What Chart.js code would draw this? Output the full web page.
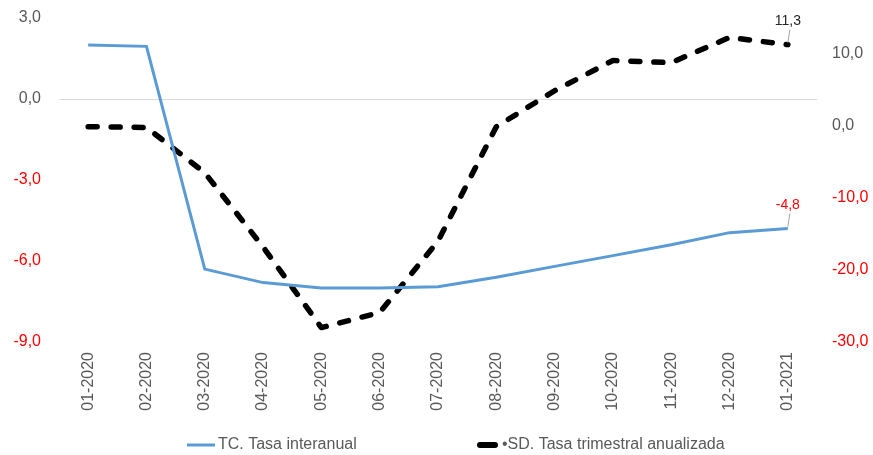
<!DOCTYPE html>
<html>
<head>
<meta charset="utf-8">
<script src="https://cdn.jsdelivr.net/npm/chart.js@4/dist/chart.umd.min.js"></script>
<style>
  html, body { margin: 0; padding: 0; background: #fff; }
  #wrap { width: 873px; height: 455px; position: relative; }
</style>
</head>
<body>
<div id="wrap"><canvas id="chart"></canvas></div>
<script>
const months = ['01-2020', '02-2020', '03-2020', '04-2020', '05-2020', '06-2020', '07-2020',
                '08-2020', '09-2020', '10-2020', '11-2020', '12-2020', '01-2021'];
// TC. Tasa interanual (left axis)
const tcValues = [2.0, 1.95, -6.3, -6.8, -7.0, -7.0, -6.95, -6.6, -6.2, -5.8, -5.4, -4.95, -4.8];
// SD. Tasa trimestral anualizada (right axis)
const sdValues = [-0.1, -0.2, -6.5, -16.8, -28.0, -25.9, -16.0, -0.1, 4.9, 9.1, 8.8, 12.3, 11.3];
const leftTicks = [-9, -6, -3, 0, 3];
const rightTicks = [-30, -20, -10, 0, 10];

const FONT = '"Liberation Sans", Arial, sans-serif';
const grey = '#595959';
const red = '#ff0000';
const blue = '#5b9bd5';
const fmt = v => v.toFixed(1).replace('.', ',');
const tickColor = ctx => (ctx.tick && ctx.tick.value < 0 ? red : grey);

// labels on the last point of each series, with a short leader line
const lastLabels = {
  id: 'lastLabels',
  afterDatasetsDraw(chart) {
    const c = chart.ctx;
    c.save();
    c.font = '14px ' + FONT;
    c.textAlign = 'center';
    c.textBaseline = 'bottom';
    chart.data.datasets.forEach((ds, i) => {
      const pt = chart.getDatasetMeta(i).data[ds.data.length - 1];
      const v = ds.data[ds.data.length - 1];
      c.strokeStyle = '#a6a6a6';
      c.lineWidth = 1;
      c.beginPath();
      c.moveTo(pt.x, pt.y - 2);
      c.lineTo(pt.x + 2, pt.y - 15);
      c.stroke();
      c.fillStyle = v < 0 ? red : '#262626';
      c.fillText(fmt(v), pt.x, pt.y - 16);
    });
    c.restore();
  }
};

// legend drawn under the axis, like the original
const bottomLegend = {
  id: 'bottomLegend',
  afterDraw(chart) {
    const c = chart.ctx;
    const y = 445;
    const items = [
      { x: 187, w: 28, lw: 3 },
      { x: 480, w: 15, lw: 6 }
    ];
    c.save();
    c.font = '16px ' + FONT;
    c.textBaseline = 'middle';
    c.textAlign = 'left';
    chart.data.datasets.forEach((ds, i) => {
      const it = items[i];
      c.strokeStyle = ds.borderColor;
      c.lineWidth = it.lw;
      c.lineCap = i === 1 ? 'round' : 'butt';
      c.beginPath();
      c.moveTo(it.x, y);
      c.lineTo(it.x + it.w, y);
      c.stroke();
      c.fillStyle = grey;
      c.fillText(ds.label, it.x + it.w + (i === 1 ? 7 : 3), y);
    });
    c.restore();
  }
};

new Chart(document.getElementById('chart'), {
  type: 'line',
  data: {
    labels: months,
    datasets: [
      {
        label: 'TC. Tasa interanual',
        data: tcValues,
        yAxisID: 'y',
        borderColor: blue,
        backgroundColor: blue,
        borderWidth: 3,
        pointRadius: 0,
        tension: 0
      },
      {
        label: '•SD. Tasa trimestral anualizada',
        data: sdValues,
        yAxisID: 'y1',
        borderColor: '#000',
        backgroundColor: '#000',
        borderWidth: 5.5,
        borderDash: [9, 14],
        borderCapStyle: 'round',
        borderJoinStyle: 'round',
        pointRadius: 0,
        tension: 0
      }
    ]
  },
  options: {
    responsive: true,
    maintainAspectRatio: false,
    animation: false,
    layout: { padding: { top: 18, left: 0, right: 0, bottom: 0 } },
    scales: {
      x: {
        offset: true,
        grid: { display: false, drawTicks: false },
        border: { display: false },
        afterFit: s => { s.height = 113; },
        ticks: {
          color: grey,
          font: { family: FONT, size: 16 },
          minRotation: 90,
          maxRotation: 90,
          padding: 10
        }
      },
      y: {
        position: 'left',
        min: -9,
        max: 3,
        afterBuildTicks: axis => { axis.ticks = leftTicks.map(v => ({ value: v })); },
        afterFit: s => { s.width = 59; s.paddingTop = 0; s.paddingBottom = 0; },
        border: { display: false },
        grid: {
          color: ctx => (ctx.tick && ctx.tick.value === 0 ? '#d9d9d9' : 'rgba(0,0,0,0)'),
          lineWidth: 1,
          drawTicks: false
        },
        ticks: {
          color: tickColor,
          font: { family: FONT, size: 16 },
          padding: 18,
          callback: v => fmt(v)
        }
      },
      y1: {
        position: 'right',
        min: -30,
        max: 15,
        afterBuildTicks: axis => { axis.ticks = rightTicks.map(v => ({ value: v })); },
        afterFit: s => { s.width = 56; s.paddingTop = 0; s.paddingBottom = 0; },
        border: { display: false },
        grid: { display: false, drawTicks: false },
        ticks: {
          color: tickColor,
          font: { family: FONT, size: 16 },
          padding: 15,
          callback: v => fmt(v)
        }
      }
    },
    plugins: {
      legend: { display: false },
      tooltip: { enabled: false }
    }
  },
  plugins: [lastLabels, bottomLegend]
});
</script>
</body>
</html>
